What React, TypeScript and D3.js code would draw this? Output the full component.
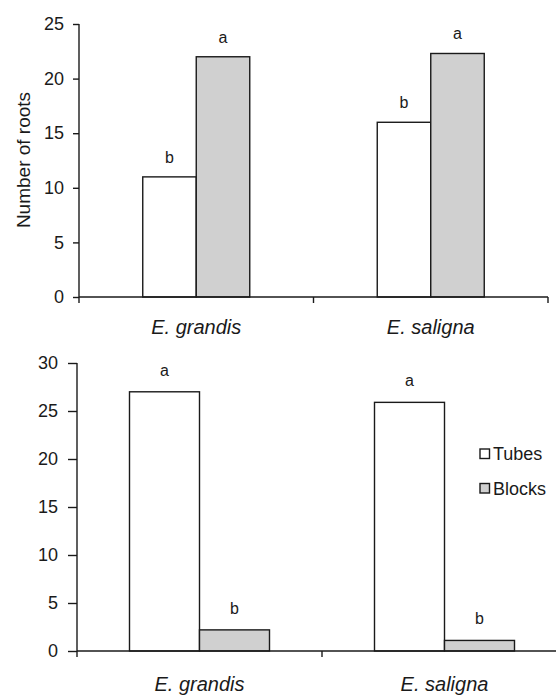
import React, { useEffect, useRef } from "react";
import * as d3 from "d3";

// categories and series
const categories = ["E. grandis", "E. saligna"];
const seriesNames = ["Tubes", "Blocks"];

// top panel: number of roots
const rootsTubes = [11, 16];
const rootsBlocks = [22, 22.3];
const rootsTubesLetters = ["b", "b"];
const rootsBlocksLetters = ["a", "a"];
const rootsTicks = [0, 5, 10, 15, 20, 25];

// bottom panel
const lowerTubes = [27, 25.9];
const lowerBlocks = [2.2, 1.1];
const lowerTubesLetters = ["a", "a"];
const lowerBlocksLetters = ["b", "b"];
const lowerTicks = [0, 5, 10, 15, 20, 25, 30];

const FONT = "'Liberation Sans', Arial, sans-serif";
const INK = "#1a1a1a";

const color = d3.scaleOrdinal<string, string>().domain(seriesNames).range(["#ffffff", "#d0d0d0"]);

type Panel = {
    left: number; right: number; top: number; bottom: number;
    max: number; groupWidth: number; tickLen: number; pad: number;
    catOffset: number; letterOffset: number;
};

const drawPanel = (svg: any, p: Panel, tubes: number[], blocks: number[],
    lettersT: string[], lettersB: string[], ticks: number[]) => {

    const g = svg.append("g");

    const y = d3.scaleLinear().domain([0, p.max]).range([p.bottom, p.top]);
    const x0 = d3.scaleBand().domain(categories).range([p.left, p.right]);
    const x1 = d3.scaleBand().domain(seriesNames).range([0, p.groupWidth]);

    const rows = categories.map((c, i) => ({
        c,
        vals: [
            { s: "Tubes", v: tubes[i], l: lettersT[i] },
            { s: "Blocks", v: blocks[i], l: lettersB[i] },
        ],
    }));

    // bars grouped by species
    const grp = g.selectAll("g.cat").data(rows).join("g")
        .attr("class", "cat")
        .attr("transform", d => `translate(${(x0(d.c) as number) + (x0.bandwidth() - p.groupWidth) / 2},0)`);

    grp.selectAll("rect").data(d => d.vals).join("rect")
        .attr("x", d => x1(d.s))
        .attr("y", d => y(d.v))
        .attr("width", x1.bandwidth())
        .attr("height", d => y(0) - y(d.v))
        .attr("fill", d => color(d.s))
        .attr("stroke", INK)
        .attr("stroke-width", 1.4);

    // significance letters
    grp.selectAll("text").data(d => d.vals).join("text")
        .attr("x", d => (x1(d.s) as number) + x1.bandwidth() / 2)
        .attr("y", d => y(d.v) - p.letterOffset)
        .attr("text-anchor", "middle")
        .attr("font-family", FONT)
        .attr("font-size", 16)
        .attr("fill", INK)
        .text(d => d.l);

    // y axis
    g.append("g")
        .attr("transform", `translate(${p.left},0)`)
        .call(d3.axisLeft(y).tickValues(ticks).tickSize(p.tickLen).tickSizeOuter(0).tickPadding(p.pad))
        .call(a => a.select(".domain").remove())
        .call(a => a.selectAll("line").attr("stroke", INK).attr("stroke-width", 1.4))
        .call(a => a.selectAll("text").attr("fill", INK))
        .attr("font-family", FONT)
        .attr("font-size", 18);

    g.append("line")
        .attr("x1", p.left).attr("x2", p.left)
        .attr("y1", y(p.max)).attr("y2", y(0) + 6)
        .attr("stroke", INK).attr("stroke-width", 1.4);

    // x axis with ticks at the category boundaries
    g.append("line")
        .attr("x1", p.left).attr("x2", p.right)
        .attr("y1", y(0)).attr("y2", y(0))
        .attr("stroke", INK).attr("stroke-width", 1.4);

    const bounds = categories.slice(1).map(c => x0(c) as number).concat([x0.range()[1]]);
    g.selectAll("line.xtick").data(bounds).join("line")
        .attr("class", "xtick")
        .attr("x1", d => d).attr("x2", d => d)
        .attr("y1", y(0)).attr("y2", y(0) + 6)
        .attr("stroke", INK).attr("stroke-width", 1.4);

    g.selectAll("text.cat").data(categories).join("text")
        .attr("class", "cat")
        .attr("x", d => (x0(d) as number) + x0.bandwidth() / 2)
        .attr("y", y(0) + p.catOffset)
        .attr("text-anchor", "middle")
        .attr("font-family", FONT)
        .attr("font-size", 20)
        .attr("font-style", "italic")
        .attr("fill", INK)
        .text(d => d);

    return g;
};

const App = () => {
    const svgRef = useRef<SVGSVGElement>(null);

    useEffect(() => {
        const svg = d3.select(svgRef.current);
        svg.selectAll("*").remove();

        drawPanel(svg,
            { left: 79, right: 548, top: 24, bottom: 297, max: 25, groupWidth: 107, tickLen: 6, pad: 9, catOffset: 37, letterOffset: 14 },
            rootsTubes, rootsBlocks, rootsTubesLetters, rootsBlocksLetters, rootsTicks);

        // y title of the top panel
        svg.append("text")
            .attr("transform", "translate(23,160) rotate(-90)")
            .attr("text-anchor", "middle")
            .attr("dominant-baseline", "central")
            .attr("font-family", FONT)
            .attr("font-size", 19)
            .attr("fill", INK)
            .text("Number of roots");

        drawPanel(svg,
            { left: 77, right: 567, top: 363, bottom: 651, max: 30, groupWidth: 140, tickLen: 9, pad: 10, catOffset: 40, letterOffset: 16 },
            lowerTubes, lowerBlocks, lowerTubesLetters, lowerBlocksLetters, lowerTicks);

        // legend
        const legend = svg.append("g").attr("transform", "translate(480,449)");
        const item = legend.selectAll("g").data(seriesNames).join("g")
            .attr("transform", (d, i) => `translate(0,${i * 34.5})`);
        item.append("rect")
            .attr("width", 9.5).attr("height", 9.5)
            .attr("fill", d => color(d))
            .attr("stroke", INK).attr("stroke-width", 1.4);
        item.append("text")
            .attr("x", 13).attr("y", 11)
            .attr("font-family", FONT)
            .attr("font-size", 18)
            .attr("fill", INK)
            .text(d => d);
    }, []);

    return <svg ref={svgRef} width={556} height={695}
        style={{ position: "absolute", left: 0, top: 0, background: "#fff" }} />;
};

export default App;
